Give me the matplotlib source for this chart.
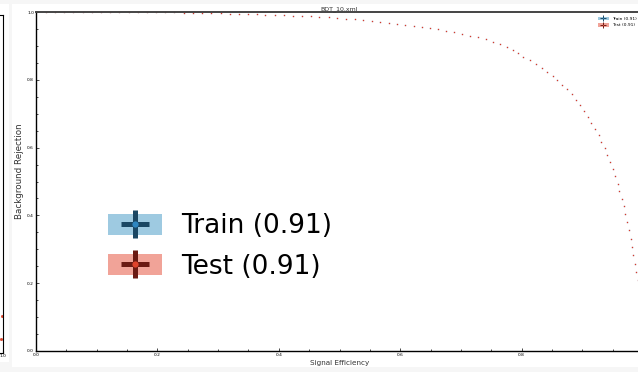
import matplotlib
matplotlib.use('Agg')
import matplotlib.pyplot as plt
from matplotlib.patches import Patch, Rectangle
from matplotlib.lines import Line2D
from matplotlib.legend_handler import HandlerTuple
from matplotlib.ticker import MultipleLocator, FixedLocator

# ROC points (signal efficiency, background rejection)
sig_eff = [0.000, 0.016, 0.031, 0.046, 0.061, 0.077, 0.092, 0.107, 0.122, 0.137,
           0.153, 0.168, 0.183, 0.198, 0.213, 0.228, 0.243, 0.259, 0.274, 0.289,
           0.304, 0.320, 0.334, 0.349, 0.364, 0.378, 0.393, 0.408, 0.423, 0.438,
           0.453, 0.467, 0.482, 0.496, 0.511, 0.525, 0.539, 0.553, 0.567, 0.581,
           0.595, 0.608, 0.622, 0.636, 0.649, 0.663, 0.676, 0.689, 0.702, 0.715,
           0.728, 0.741, 0.753, 0.764, 0.776, 0.786, 0.794, 0.803, 0.814, 0.823,
           0.833, 0.842, 0.851, 0.859, 0.867, 0.875, 0.883, 0.890, 0.897, 0.903,
           0.909, 0.915, 0.921, 0.927, 0.931, 0.937, 0.941, 0.946, 0.950, 0.954,
           0.958, 0.961, 0.965, 0.969, 0.971, 0.974, 0.977, 0.980, 0.982, 0.984,
           0.986, 0.988, 0.991, 0.993, 0.996, 0.998]
bkg_rej = [1.000, 1.000, 1.000, 1.000, 1.000, 1.000, 1.000, 1.000, 1.000, 1.000,
           1.000, 1.000, 1.000, 1.000, 0.999, 0.999, 0.998, 0.998, 0.997, 0.997,
           0.996, 0.995, 0.995, 0.994, 0.993, 0.992, 0.992, 0.990, 0.989, 0.988,
           0.987, 0.986, 0.984, 0.981, 0.979, 0.978, 0.976, 0.973, 0.971, 0.968,
           0.965, 0.962, 0.959, 0.956, 0.952, 0.949, 0.945, 0.940, 0.935, 0.930,
           0.925, 0.919, 0.912, 0.905, 0.897, 0.888, 0.878, 0.868, 0.858, 0.847,
           0.836, 0.824, 0.812, 0.799, 0.786, 0.772, 0.757, 0.741, 0.725, 0.709,
           0.691, 0.673, 0.655, 0.636, 0.617, 0.598, 0.578, 0.558, 0.537, 0.516,
           0.494, 0.472, 0.448, 0.427, 0.404, 0.381, 0.356, 0.331, 0.307, 0.282,
           0.258, 0.233, 0.209, 0.182, 0.156, 0.130]
labels = ['Train (0.91)', 'Test (0.91)']
title = 'BDT_10.xml'
x_ticks = [0.0, 0.2, 0.4, 0.6, 0.8]

W, H = 638, 372
fig = plt.figure(figsize=(W / 100, H / 100), dpi=100, facecolor='#f6f6f6')

# white panels behind the axes
fig.patches.append(Rectangle((0, 10 / H), 9 / W, 1 - 10 / H, transform=fig.transFigure,
                             facecolor='white', edgecolor='none', zorder=-5))
fig.patches.append(Rectangle((12 / W, 5 / H), 1, 1 - 9 / H, transform=fig.transFigure,
                             facecolor='white', edgecolor='none', zorder=-5))


def px_axes(x0, y0, x1, y1):
    return fig.add_axes([x0 / W, 1 - y1 / H, (x1 - x0) / W, (y1 - y0) / H])


# neighbouring plot, only its right edge shows
side = px_axes(-400, 15, 2.7, 353)
side.set_xlim(0, 1)
side.set_ylim(0, 1)
side.plot([0.999, 0.995], [0.11, 0.04], 's', ms=1.0, color='#d9442b', ls='none')
side.set_xticks([1.0])
side.set_xticklabels(['1.0'])
side.set_yticks([])
side.tick_params(labelsize=3.2, pad=1, length=2, direction='in')
for s in side.spines.values():
    s.set_linewidth(0.8)

ax = px_axes(36, 12, 643, 351)
ax.set_facecolor('white')
ax.set_xlim(0, 1)
ax.set_ylim(0, 1)

ax.plot(sig_eff, bkg_rej, 's', ms=0.9, mew=0, color='#6a8fbf', ls='none')
ax.plot(sig_eff, bkg_rej, 's', ms=0.9, mew=0, color='#d73a2a', ls='none')

ax.xaxis.set_major_locator(FixedLocator(x_ticks))
ax.yaxis.set_major_locator(MultipleLocator(0.2))
ax.xaxis.set_minor_locator(MultipleLocator(0.05))
ax.yaxis.set_minor_locator(MultipleLocator(0.05))
ax.tick_params(which='both', direction='in', labelsize=3.2, pad=1.5, width=0.5)
ax.tick_params(which='major', length=2.5)
ax.tick_params(which='minor', length=1.5)
ax.xaxis.set_major_formatter(plt.FormatStrFormatter('%.1f'))
ax.yaxis.set_major_formatter(plt.FormatStrFormatter('%.1f'))

for s in ax.spines.values():
    s.set_linewidth(1.0)
ax.spines['top'].set_color('#444444')
ax.spines['top'].set_linewidth(1.4)

ax.set_title(title, fontsize=4.5, pad=1.5, color='#333333')
ax.set_xlabel('Signal Efficiency', fontsize=5.2, labelpad=2, color='#333333')
ax.set_ylabel('Background Rejection', fontsize=6.3, color='#333333')
ax.yaxis.set_label_coords(-0.0205, 0.53)


def make_handles(scale):
    out = []
    for fill, dark, dot in [('#9ecae1', '#1b4763', '#2f86c0'),
                            ('#f1a398', '#6b1a13', '#e0432c')]:
        patch = Patch(facecolor=fill, edgecolor='none')
        cross = Line2D([], [], marker='+', ms=20 * scale, mew=3.6 * scale,
                       color=dark, ls='none')
        centre = Line2D([], [], marker='o', ms=4.5 * scale, mew=0,
                        color=dot, ls='none')
        out.append((patch, cross, centre))
    return out


small = ax.legend(make_handles(0.19), labels, loc='upper right',
                  bbox_to_anchor=(0.995, 0.995), fontsize=3.2, frameon=False,
                  handlelength=2.3, handleheight=0.9, handletextpad=0.8,
                  labelspacing=0.4, borderpad=0.2,
                  handler_map={tuple: HandlerTuple(ndivide=1)})
ax.add_artist(small)

big = ax.legend(make_handles(1.0), labels, loc='lower left',
                bbox_to_anchor=(0.088, 0.155), fontsize=19, frameon=False,
                handlelength=2.05, handleheight=0.85, handletextpad=0.72,
                labelspacing=0.55, borderpad=0.2,
                handler_map={tuple: HandlerTuple(ndivide=1)})

# strip along the bottom edge, over the axis label
fig.patches.append(Rectangle((0, 0), 1, 5 / H, transform=fig.transFigure,
                             facecolor='#f6f6f6', edgecolor='none', zorder=10))
fig.patches.append(Rectangle((0, 1 - 4 / H), 1, 4 / H, transform=fig.transFigure,
                             facecolor='#f6f6f6', edgecolor='none', zorder=10))

fig.savefig('out.png', dpi=100, facecolor=fig.get_facecolor())
